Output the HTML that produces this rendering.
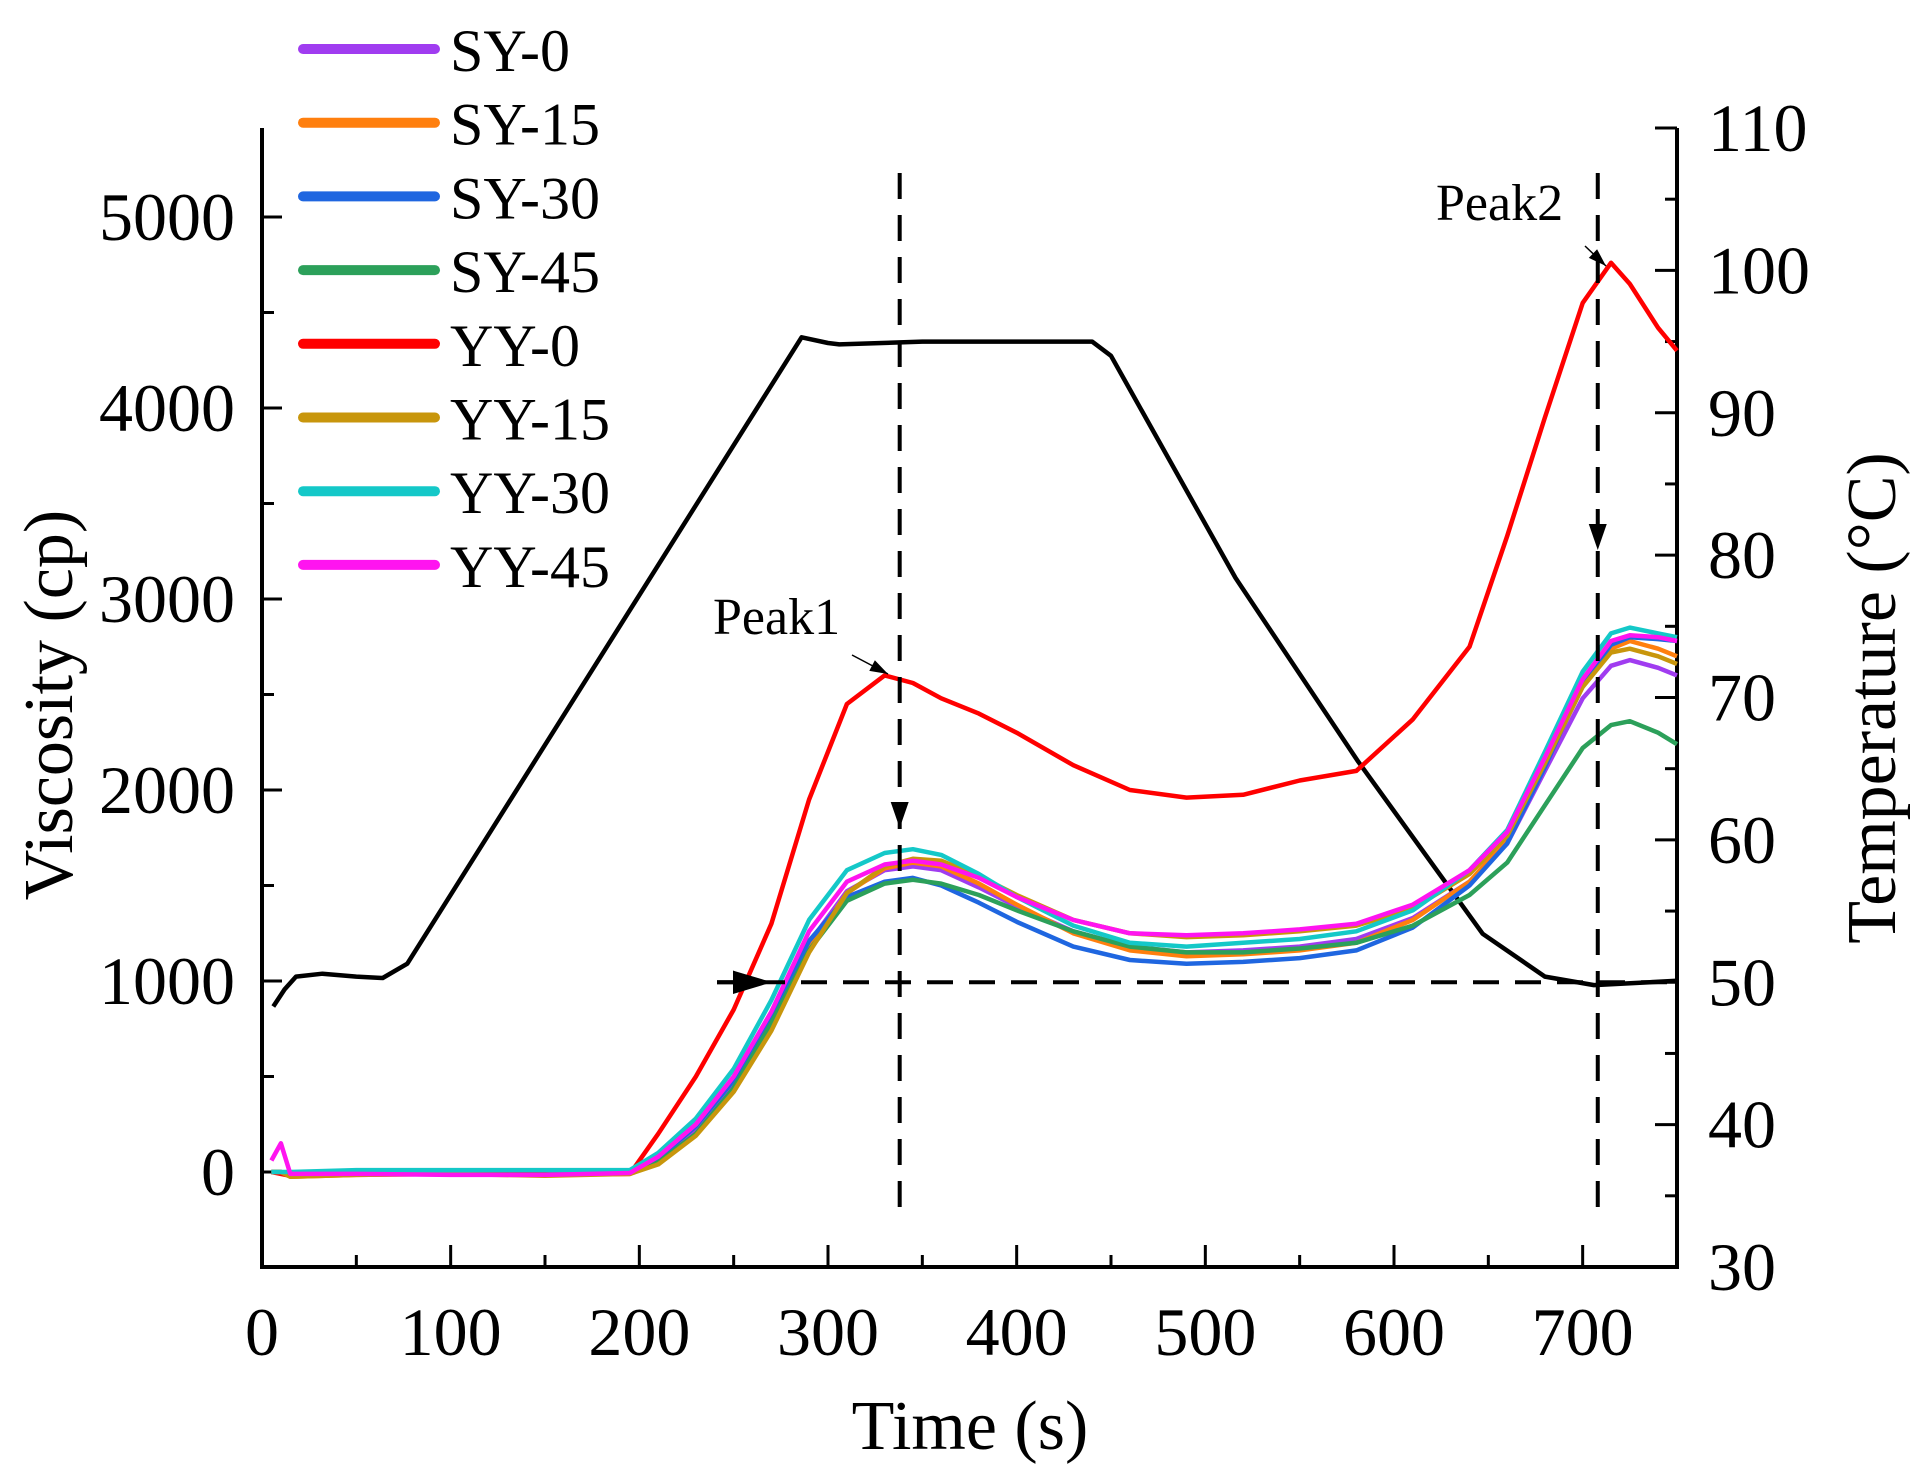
<!DOCTYPE html>
<html><head><meta charset="utf-8"><style>
html,body{margin:0;padding:0;background:#fff;}
svg{display:block;font-family:"Liberation Serif",serif;}
</style></head><body>
<svg id="chart" width="1923" height="1482" viewBox="0 0 1923 1482" xmlns="http://www.w3.org/2000/svg">
<g id="axes"></g>
<g id="series"></g>
<g id="annot"></g>
<g id="legend"></g>
<text x="970" y="1449" font-size="70" text-anchor="middle">Time (s)</text>
<text x="0" y="0" font-size="70" text-anchor="middle" transform="translate(72,705) rotate(-90)">Viscosity (cp)</text>
<text x="0" y="0" font-size="70" text-anchor="middle" transform="translate(1895,698) rotate(-90)">Temperature (°C)</text>
</svg>
<script>
const times = [5,10,15,50,100,150,195,210,230,250,270,290,310,330,345,360,380,400,430,460,490,520,550,580,610,640,660,680,700,715,725,740,750];
const sy0  = [0,0,-20,-10,-10,-15,-5,60,220,460,800,1200,1470,1580,1600,1580,1490,1390,1260,1180,1150,1160,1180,1220,1330,1520,1720,2100,2480,2650,2680,2640,2600];
const sy15 = [0,0,-25,-15,-10,-15,-10,50,200,430,760,1170,1460,1590,1620,1600,1510,1400,1250,1160,1130,1140,1160,1200,1320,1520,1740,2140,2560,2740,2780,2740,2700];
const sy30 = [0,0,-20,-10,-10,-15,-5,70,240,480,820,1210,1440,1520,1540,1500,1410,1310,1180,1110,1090,1100,1120,1160,1280,1500,1720,2120,2560,2760,2800,2790,2780];
const sy45 = [0,0,-20,-10,-10,-15,-5,50,200,440,780,1160,1420,1510,1530,1510,1450,1370,1260,1180,1150,1150,1170,1200,1290,1450,1620,1920,2220,2340,2360,2300,2240];
const yy0  = [0,-10,-20,-10,-10,-10,-10,200,500,850,1300,1950,2450,2600,2560,2480,2400,2300,2130,2000,1960,1975,2050,2100,2370,2750,3330,3950,4550,4760,4650,4420,4300];
const yy15 = [0,0,-25,-15,-10,-20,-10,40,190,420,740,1150,1460,1600,1640,1630,1550,1450,1320,1250,1230,1240,1260,1290,1380,1560,1760,2140,2540,2720,2740,2700,2660];
const yy30 = [0,0,0,10,10,10,10,100,280,540,900,1320,1580,1670,1690,1660,1560,1440,1290,1200,1180,1200,1220,1260,1370,1580,1790,2200,2620,2820,2850,2820,2800];
const yy45 = [60,150,-10,-10,-15,-15,-5,80,250,500,840,1260,1520,1610,1630,1610,1540,1440,1320,1250,1240,1250,1270,1300,1400,1580,1780,2170,2580,2780,2810,2800,2780];
const tempTimes = [6,12,18,32,50,64,77,286,300,306,350,400,440,450,516,581,647,680,706,750];
const tempVals  = [48.3,49.5,50.4,50.6,50.4,50.3,51.3,95.3,94.9,94.8,95,95,95,94,78.4,65.5,53.4,50.4,49.8,50.1];
const seriesNames = ["SY-0","SY-15","SY-30","SY-45","YY-0","YY-15","YY-30","YY-45"];
const seriesColors = ["#a03cf0","#ff7f0e","#1f66e0","#2ca05a","#ff0000","#c8960c","#14c8c8","#ff14f0"];
const seriesData = [sy0,sy15,sy30,sy45,yy0,yy15,yy30,yy45];
const xTicks = [0,100,200,300,400,500,600,700];
const yTicksLeft = [0,1000,2000,3000,4000,5000];
const yTicksRight = [30,40,50,60,70,80,90,100,110];
const peakTimes = [338,708];

const X0=262, X1=1677, YB=1267, YT=128;
const xS = t => X0 + t*(X1-X0)/750;
const yV = v => 1172 - v*0.191;
const yT = T => YB - (T-30)*14.2375;
const NS="http://www.w3.org/2000/svg";
function mk(tag, attrs, parent){const e=document.createElementNS(NS,tag);for(const k in attrs)e.setAttribute(k,attrs[k]);parent.appendChild(e);return e;}
const axes=document.getElementById('axes'), ser=document.getElementById('series'), ann=document.getElementById('annot'), leg=document.getElementById('legend');

let a=mk('path',{d:`M${X0},${YT} V${YB} H${X1} V${YT}`,fill:'none',stroke:'#000','stroke-width':4},axes);


for(let v=0; v<=5000; v+=500){
  const y=yV(v), major=v%1000===0;
  let t=mk('line',{x1:X0,x2:X0+(major?20:12),y1:y,y2:y,stroke:'#000','stroke-width':3},axes);
  
  
}
yTicksLeft.forEach(v=>{
  let t=mk('text',{x:235,y:yV(v)+23,'font-size':68,'text-anchor':'end'},axes); t.textContent=v;
  
  
});
for(let T=30; T<=110; T+=5){
  const y=yT(T), major=T%10===0;
  let t=mk('line',{x1:X1,x2:X1-(major?22:12),y1:y,y2:y,stroke:'#000','stroke-width':3},axes);
  
  
}
yTicksRight.forEach(T=>{
  let t=mk('text',{x:1708,y:yT(T)+23,'font-size':68},axes); t.textContent=T;
  
  
});
for(let s=50; s<=700; s+=50){
  const x=xS(s), major=s%100===0;
  let t=mk('line',{x1:x,x2:x,y1:YB,y2:YB-(major?22:12),stroke:'#000','stroke-width':3},axes);
  
  
}
xTicks.forEach(s=>{
  let t=mk('text',{x:xS(s),y:1355,'font-size':68,'text-anchor':'middle'},axes); t.textContent=s;
  
  
});

let tp=mk('path',{d:tempTimes.map((t,i)=>(i?'L':'M')+xS(t).toFixed(1)+','+yT(tempVals[i]).toFixed(1)).join(' '),fill:'none',stroke:'#000','stroke-width':4.5,'stroke-linejoin':'round'},ser);



seriesData.forEach((arr,k)=>{
  const d=times.map((t,i)=>(i?'L':'M')+xS(t).toFixed(1)+','+yV(arr[i]).toFixed(1)).join(' ');
  let p=mk('path',{d,fill:'none',stroke:seriesColors[k],'stroke-width':4.5,'stroke-linejoin':'round'},ser);
  
  
});

peakTimes.forEach((t,i)=>{
  const x=xS(t);
  let l=mk('line',{x1:x,x2:x,y1:173,y2:1212,stroke:'#000','stroke-width':4,'stroke-dasharray':'26,16'},ann);
  
  
  const ay = i===0?828:550;
  let h=mk('path',{d:`M${x-9},${ay-26} L${x+9},${ay-26} L${x},${ay} Z`,fill:'#000'},ann);
  
  
});
const y50=yT(50);
let hl=mk('line',{x1:717,x2:X1,y1:y50,y2:y50,stroke:'#000','stroke-width':4,'stroke-dasharray':'26,16'},ann);


let ha=mk('path',{d:`M717,${y50} H760 M735,${y50-9} L765,${y50} L735,${y50+9} Z`,stroke:'#000','stroke-width':4,fill:'#000'},ann);



function label(txt,x,y,x1,y1,x2,y2,name){
  let t=mk('text',{x,y,'font-size':52},ann); t.textContent=txt;
  
  
  let l=mk('line',{x1,y1,x2,y2,stroke:'#000','stroke-width':1.5},ann);
  
  
  const ang=Math.atan2(y2-y1,x2-x1), L=18, W=6;
  const bx=x2-L*Math.cos(ang), by=y2-L*Math.sin(ang);
  let h=mk('path',{d:`M${x2},${y2} L${bx-W*Math.sin(ang)},${by+W*Math.cos(ang)} L${bx+W*Math.sin(ang)},${by-W*Math.cos(ang)} Z`,fill:'#000'},ann);
  
  
}
label('Peak1',713,634,852,655,888,674,'peak1');
label('Peak2',1436,220,1585,246,1606,266,'peak2');

seriesNames.forEach((n,i)=>{
  const y=49+i*73.7;
  let l=mk('line',{x1:303,x2:435,y1:y,y2:y,stroke:seriesColors[i],'stroke-width':10,'stroke-linecap':'round'},leg);
  
  
  let t=mk('text',{x:450,y:y+22,'font-size':60},leg); t.textContent=n;
  
  
});
</script>
</body></html>
